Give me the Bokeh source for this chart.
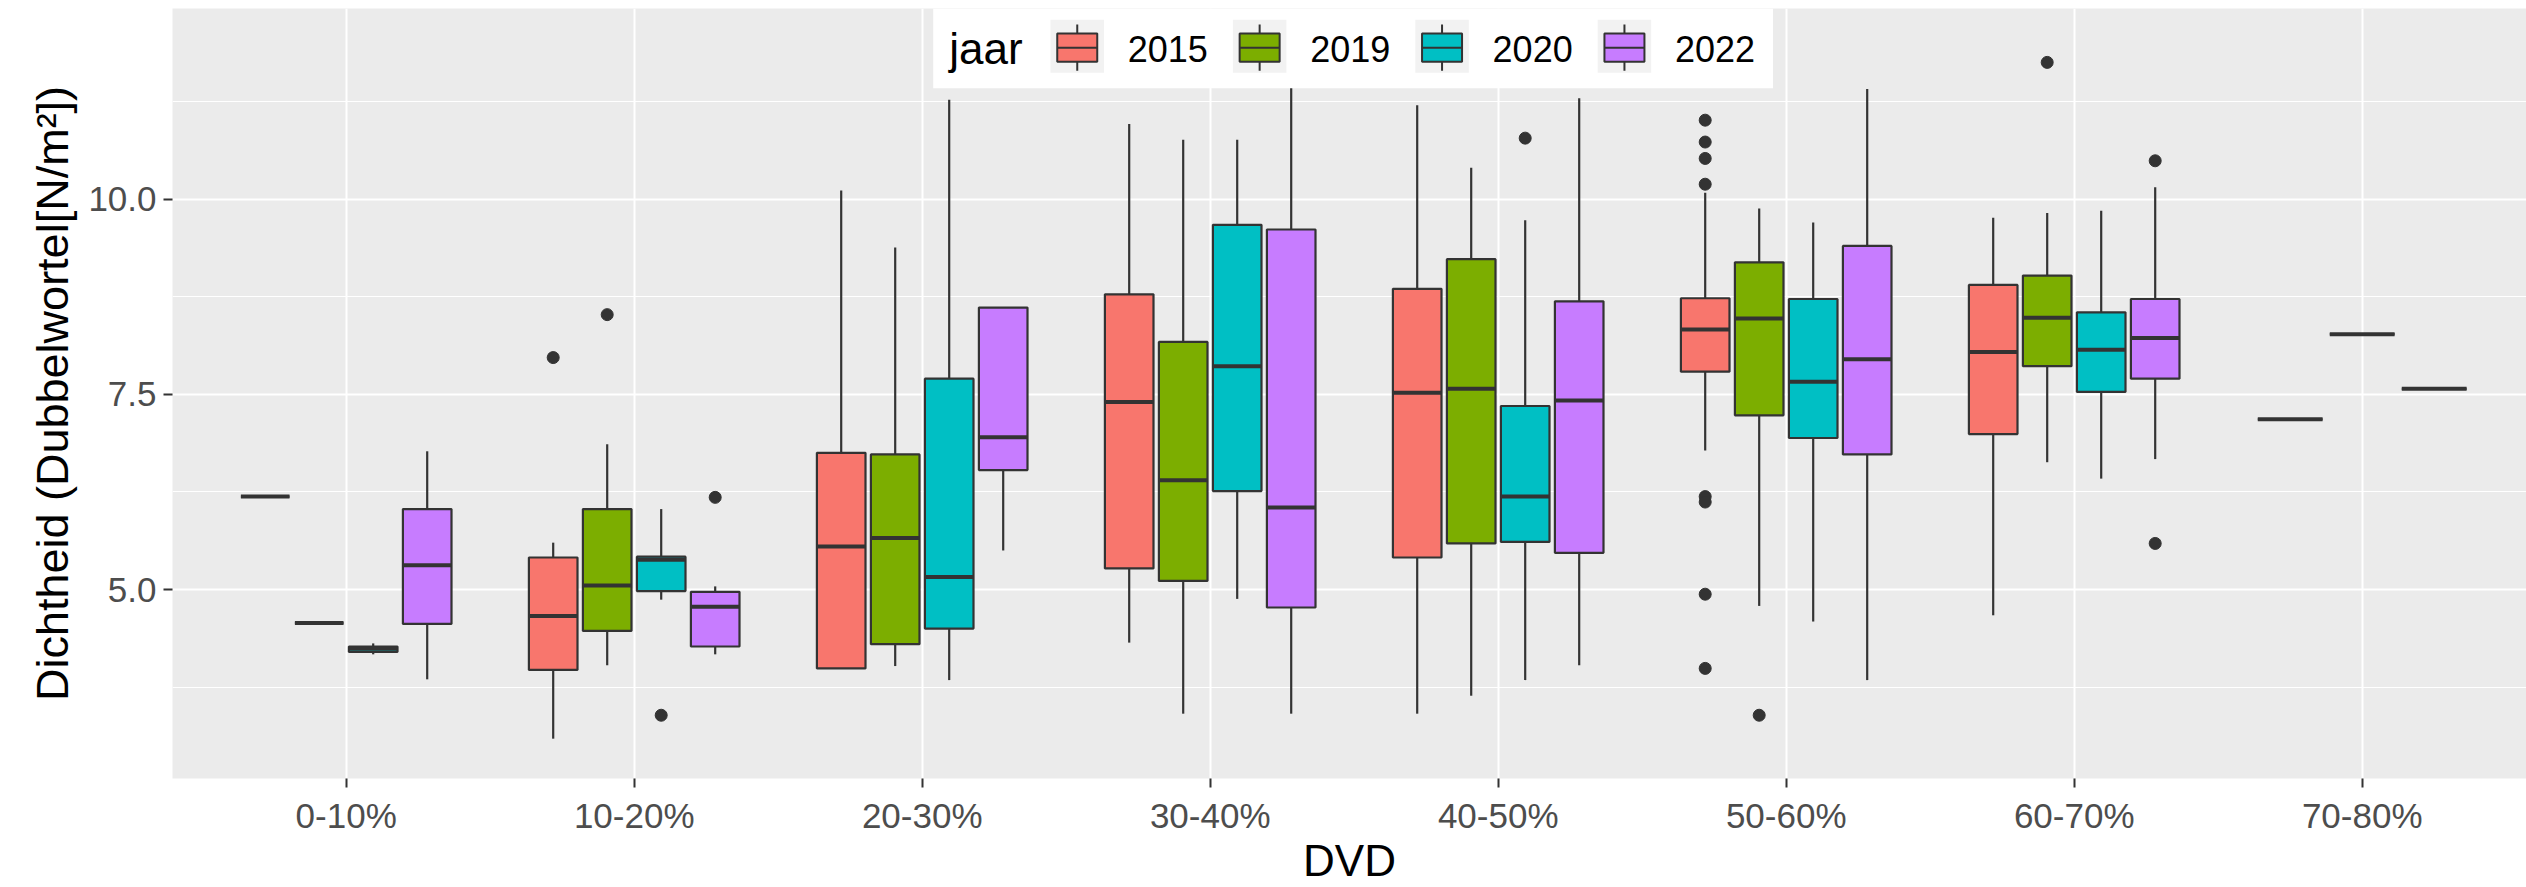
from bokeh.plotting import figure
from bokeh.models import Range1d, FixedTicker, ColumnDataSource
from bokeh.embed import file_html
from bokeh.resources import INLINE
from bokeh.core.properties import value

# ---------------- data ----------------
categories = ["0-10%", "10-20%", "20-30%", "30-40%", "40-50%", "50-60%", "60-70%", "70-80%"]
years = ["2015", "2019", "2020", "2022"]
colors = ["#F8766D", "#7CAE00", "#00BFC4", "#C77CFF"]

# per category: [lower whisker, Q1, median, Q3, upper whisker]; None = no data
stats_2015 = [
    [6.19, 6.19, 6.19, 6.19, 6.19],
    [3.09, 3.97, 4.66, 5.41, 5.60],
    [3.99, 3.99, 5.55, 6.75, 10.11],
    [4.32, 5.27, 7.40, 8.78, 10.96],
    [3.41, 5.41, 7.52, 8.85, 11.20],
    [6.78, 7.79, 8.33, 8.73, 10.08],
    [4.67, 6.99, 8.04, 8.90, 9.76],
    [7.18, 7.18, 7.18, 7.18, 7.18],
]
stats_2019 = [
    [4.57, 4.57, 4.57, 4.57, 4.57],
    [4.03, 4.47, 5.05, 6.03, 6.86],
    [4.02, 4.30, 5.66, 6.73, 9.38],
    [3.41, 5.11, 6.40, 8.17, 10.76],
    [3.64, 5.59, 7.57, 9.23, 10.40],
    [4.79, 7.23, 8.47, 9.19, 9.88],
    [6.63, 7.86, 8.48, 9.02, 9.82],
    [8.27, 8.27, 8.27, 8.27, 8.27],
]
stats_2020 = [
    [4.17, 4.20, 4.24, 4.27, 4.31],
    [4.87, 4.98, 5.38, 5.42, 6.03],
    [3.84, 4.50, 5.16, 7.70, 11.27],
    [4.88, 6.26, 7.86, 9.67, 10.76],
    [3.84, 5.61, 6.19, 7.35, 9.73],
    [4.59, 6.94, 7.66, 8.72, 9.70],
    [6.42, 7.53, 8.07, 8.55, 9.85],
    None,
]
stats_2022 = [
    [3.85, 4.56, 5.31, 6.03, 6.77],
    [4.17, 4.27, 4.78, 4.97, 5.04],
    [5.50, 6.53, 6.95, 8.61, 8.61],
    [3.41, 4.77, 6.05, 9.61, 11.95],
    [4.03, 5.47, 7.42, 8.69, 11.29],
    [3.84, 6.73, 7.95, 9.40, 11.41],
    [6.67, 7.70, 8.22, 8.72, 10.15],
    [7.57, 7.57, 7.57, 7.57, 7.57],
]
outliers_2015 = [[], [7.97], [], [], [], [11.01, 10.73, 10.52, 10.19, 6.19, 6.12, 4.94, 3.99], [], []]
outliers_2019 = [[], [8.52], [], [], [], [3.39], [11.75], []]
outliers_2020 = [[], [3.39], [], [], [10.78], [], [], []]
outliers_2022 = [[], [6.18], [], [], [], [], [10.49, 5.59], []]

y_tick_values = [5.0, 7.5, 10.0]
y_tick_labels = ["5.0", "7.5", "10.0"]
y_minor_values = [3.75, 6.25, 8.75, 11.25]

x_title = "DVD"
y_title = "Dichtheid (Dubbelwortel[N/m\u00b2])"
legend_title = "jaar"

all_stats = [stats_2015, stats_2019, stats_2020, stats_2022]
all_out = [outliers_2015, outliers_2019, outliers_2020, outliers_2022]

# ---------------- layout constants ----------------
FONT = value("Liberation Sans")
EDGE = "#333333"
DODGE = 0.75
PAD = 0.9

p = figure(width=2526, height=887, output_backend="svg", toolbar_location=None,
           x_range=Range1d(0.39687, 8.5705), y_range=Range1d(2.580, 12.44),
           min_border_left=172, min_border_right=0, min_border_top=8, min_border_bottom=104)
p.background_fill_color = "#EBEBEB"
p.border_fill_color = "white"
p.outline_line_color = None

# ---------------- build box data via dodge ----------------
box = dict(left=[], right=[], q1=[], q3=[], med=[], x=[], lo=[], hi=[], color=[])
pts = dict(x=[], y=[])
for ci, cat in enumerate(categories):
    present = [k for k in range(len(years)) if all_stats[k][ci] is not None]
    n = len(present)
    step = DODGE / n
    for j, k in enumerate(present):
        lo, q1, med, q3, hi = all_stats[k][ci]
        xc = (ci + 1) + (j - (n - 1) / 2) * step
        hw = step * PAD / 2
        box["left"].append(xc - hw); box["right"].append(xc + hw)
        box["q1"].append(q1); box["q3"].append(q3); box["med"].append(med)
        box["x"].append(xc); box["lo"].append(lo); box["hi"].append(hi)
        box["color"].append(colors[k])
        for o in all_out[k][ci]:
            pts["x"].append(xc); pts["y"].append(o)

src = ColumnDataSource(box)
p.segment(x0="x", x1="x", y0="lo", y1="q1", source=src, line_color=EDGE, line_width=2.2)
p.segment(x0="x", x1="x", y0="q3", y1="hi", source=src, line_color=EDGE, line_width=2.2)
p.quad(left="left", right="right", bottom="q1", top="q3", fill_color="color",
       line_color=EDGE, line_width=2.2, source=src)
p.segment(x0="left", x1="right", y0="med", y1="med", source=src, line_color=EDGE, line_width=4)
p.scatter(x="x", y="y", source=ColumnDataSource(pts), size=12, color=EDGE)

# ---------------- axes / grid ----------------
p.xaxis.ticker = FixedTicker(ticks=list(range(1, len(categories) + 1)))
p.xaxis.major_label_overrides = {i + 1: c for i, c in enumerate(categories)}
p.yaxis.ticker = FixedTicker(ticks=y_tick_values, minor_ticks=y_minor_values)
p.yaxis.major_label_overrides = {v: l for v, l in zip(y_tick_values, y_tick_labels)}
for ax in (p.xaxis[0], p.yaxis[0]):
    ax.axis_line_color = None
    ax.major_tick_line_color = EDGE
    ax.major_tick_line_width = 2
    ax.major_tick_in = 0
    ax.major_tick_out = 9
    ax.minor_tick_line_color = None
    ax.major_label_text_font = "Liberation Sans"
    ax.major_label_text_font_size = "35px"
    ax.major_label_text_color = "#4D4D4D"
    ax.axis_label_text_font = "Liberation Sans"
    ax.axis_label_text_font_style = "normal"
    ax.axis_label_text_color = "black"
p.xaxis.axis_label_text_font_size = "44px"
p.yaxis.axis_label_text_font_size = "45px"
p.xaxis.major_label_standoff = 8
p.yaxis.major_label_standoff = 7
p.xaxis.axis_label_standoff = -2
p.yaxis.axis_label_standoff = 7
p.xaxis.axis_label = x_title
p.yaxis.axis_label = y_title

p.xgrid.grid_line_color = "white"
p.xgrid.grid_line_width = 2
p.ygrid.grid_line_color = "white"
p.ygrid.grid_line_width = 2
p.ygrid.minor_grid_line_color = "white"
p.ygrid.minor_grid_line_width = 1.2


# pixel -> data helpers (frame is fixed: x 172..2526, y 8..783)
def px2x(px):
    return 1 + (px - 345.7) / 288.0


def py2y(py):
    return 5 + (592.8 - py) / 78.6


# ---------------- legend (drawn manually, ggplot style) ----------------
p.quad(left=[px2x(932.7)], right=[px2x(1772.5)], top=[py2y(8.0)], bottom=[py2y(88.3)],
       fill_color="white", line_color=None)
p.text(x=[px2x(948.8)], y=[py2y(48.5)], text=[legend_title], text_font=FONT,
       text_font_size="44px", text_color="black", text_baseline="middle", text_align="left")
kl, kr, bl, br, cx, lx = [], [], [], [], [], []
for i in range(len(years)):
    k0 = 1050.0 + 182.4 * i
    c = k0 + 26.75
    kl.append(px2x(k0)); kr.append(px2x(k0 + 53.5))
    bl.append(px2x(c - 20)); br.append(px2x(c + 20))
    cx.append(px2x(c)); lx.append(px2x(k0 + 77.3))
ksrc = ColumnDataSource(dict(kl=kl, kr=kr, bl=bl, br=br, cx=cx, lx=lx, color=colors,
                             label=years))
p.quad(left="kl", right="kr", top=py2y(19.3), bottom=py2y(72.7), source=ksrc,
       fill_color="#F2F2F2", line_color=None)
p.segment(x0="cx", x1="cx", y0=py2y(24.0), y1=py2y(70.7), source=ksrc, line_color=EDGE, line_width=2)
p.quad(left="bl", right="br", top=py2y(33.3), bottom=py2y(61.7), source=ksrc,
       fill_color="color", line_color=EDGE, line_width=2)
p.segment(x0="bl", x1="br", y0=py2y(47.5), y1=py2y(47.5), source=ksrc, line_color=EDGE, line_width=2)
p.text(x="lx", y=py2y(48.5), text="label", source=ksrc, text_font=FONT, text_font_size="36px",
       text_color="black", text_baseline="middle", text_align="left")

open("out.html", "w").write(file_html(p, INLINE))
